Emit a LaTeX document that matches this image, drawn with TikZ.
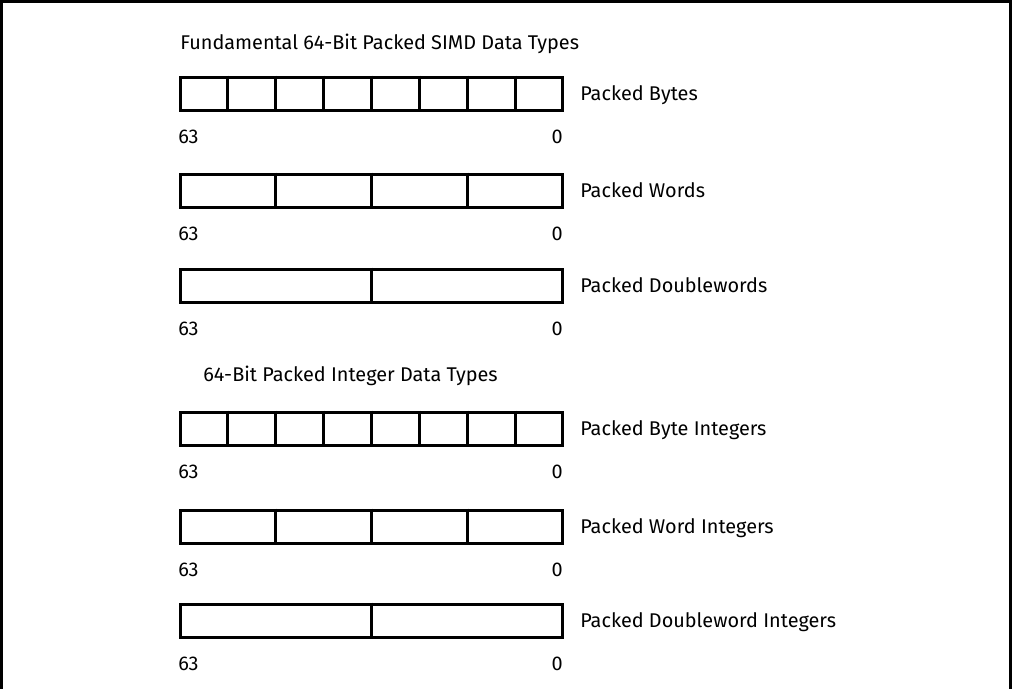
\documentclass[tikz,border=0pt]{standalone}
\usepackage{fontspec}
\setmainfont{Fira Sans}
\usetikzlibrary{calc}

\tikzset{
  regbox/.style={draw,line width=2.25pt,inner sep=0pt,minimum width=286.5pt,minimum height=25.125pt},
  divider/.style={line width=2.25pt},
  txt/.style={inner sep=0pt,anchor=base west,font=\fontsize{14.9}{18}\selectfont},
  bitlo/.style={txt,anchor=base east},
}

\begin{document}
\begin{tikzpicture}[x=0.75pt,y=-0.75pt]
  \useasboundingbox (0,0) rectangle (1015,689);
  % outer frame, open at the bottom
  \draw[line width=2.25pt] (1.5,689) -- (1.5,1.5) -- (1010,1.5) -- (1010,689);

  \node[txt] (fundtitle) at (180,49) {Fundamental 64-Bit Packed SIMD Data Types};

  \node[regbox] (pb) at (371.5,93.75) {};
  \node[regbox] (pw) at (371.5,190.75) {};
  \node[regbox] (pd) at (371.5,285.75) {};

  \node[txt] (inttitle) at (203,381) {64-Bit Packed Integer Data Types};

  \node[regbox] (pbi) at (371.5,428.75) {};
  \node[regbox] (pwi) at (371.5,526.75) {};
  \node[regbox] (pdi) at (371.5,620.75) {};

  % element boundaries
  \foreach \r in {pb,pbi}
    \foreach \k in {1,...,7}
      \draw[divider] ($(\r.north west)!\k/8!(\r.north east)$) -- ++(0,36.5);
  \foreach \r in {pw,pwi}
    \foreach \k in {1,...,3}
      \draw[divider] ($(\r.north west)!\k/4!(\r.north east)$) -- ++(0,36.5);
  \foreach \r in {pd,pdi}
    \draw[divider] (\r.north) -- ++(0,36.5);

  % names and bit numbers
  \node[txt] (pbname) at (580,100) {Packed Bytes};
  \node[txt] (pwname) at (580,197) {Packed Words};
  \node[txt] (pdname) at (580,292) {Packed Doublewords};
  \node[txt] (pbiname) at (580,435) {Packed Byte Integers};
  \node[txt] (pwiname) at (580,533) {Packed Word Integers};
  \node[txt] (pdiname) at (580,627) {Packed Doubleword Integers};

  \foreach \r/\y in {pb/143,pw/240,pd/335,pbi/478,pwi/576,pdi/670} {
    \node[txt] (\r hi) at (178,\y) {63};
    \node[bitlo] (\r lo) at (563,\y) {0};
  }
\end{tikzpicture}
\end{document}
